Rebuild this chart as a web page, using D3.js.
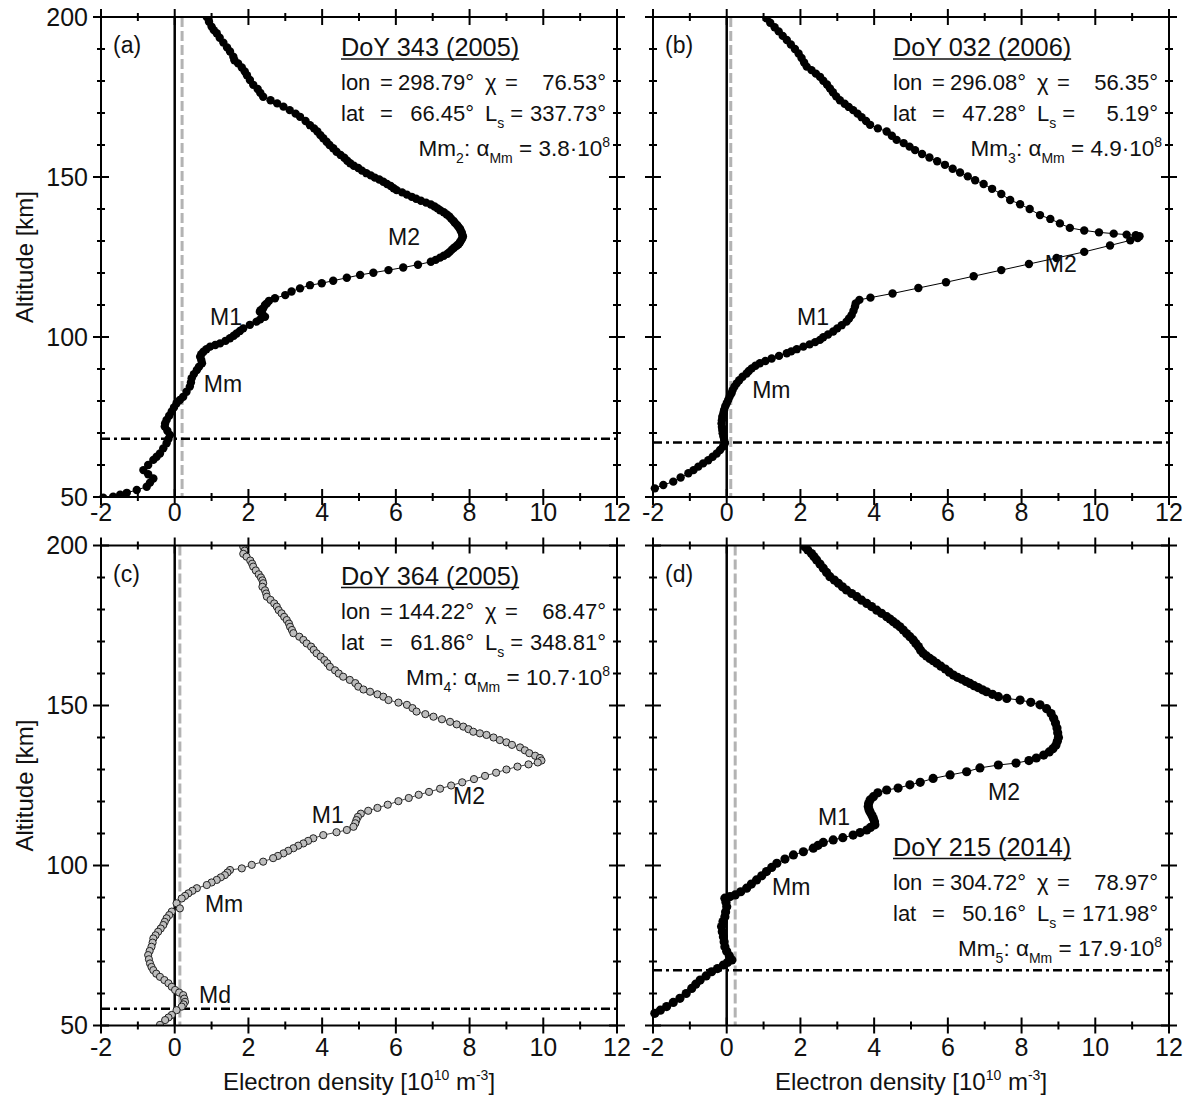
<!DOCTYPE html>
<html>
<head>
<meta charset="utf-8">
<script src="https://cdn.jsdelivr.net/npm/d3@7"></script>
<style>
  body { margin: 0; background: #fff; }
  text { font-family: "Liberation Sans", Arial, sans-serif; fill: #111; }
</style>
</head>
<body>
<script>
// electron density profiles, [altitude km, Ne 1e10 m^-3]
const profileA = [
  [200,0.87],[198.5,0.93],[197,1.0],[195.9,1.06],[194.9,1.14],[193.5,1.22],[192,1.32],[190.5,1.42],
  [189.2,1.5],[187.6,1.59],[186.5,1.62],[185.5,1.72],[184.2,1.82],[183,1.9],[181.8,1.96],[180.3,2.04],
  [178.8,2.13],[177.5,2.25],[176.3,2.32],[175.1,2.4],[174,2.6],[173,2.78],[172,2.95],[170.9,3.12],
  [169.8,3.28],[168.8,3.4],[167.5,3.55],[166.2,3.67],[165.2,3.78],[164.2,3.87],[163.1,3.95],[162.1,4.03],
  [161,4.12],[160,4.2],[159,4.3],[157.9,4.39],[156.9,4.5],[156,4.6],[155.1,4.68],[154.3,4.76],
  [153.5,4.86],[152.8,4.98],[152,5.08],[151.2,5.2],[150.5,5.32],[149.8,5.43],[149.2,5.55],[148.5,5.66],
  [147.8,5.76],[147.2,5.86],[146.5,5.94],[145.9,6.02],[145.2,6.17],[144.5,6.3],[143.8,6.43],[143.2,6.55],
  [142.6,6.68],[142,6.82],[141.4,6.95],[140.8,7.05],[140.2,7.13],[139.6,7.2],[139,7.3],[138.3,7.38],
  [137.7,7.45],[137,7.5],[136.3,7.56],[135.7,7.6],[135,7.66],[134.4,7.7],[133.8,7.74],[133.2,7.76],
  [132.6,7.79],[132,7.8],[131.4,7.82],[130.8,7.8],[130.2,7.77],[129.6,7.74],[129,7.7],[128.5,7.65],
  [127.9,7.58],[127.3,7.52],[126.6,7.46],[126,7.4],[125.4,7.3],[124.8,7.2],[124.1,7.08],[123.5,6.95],
  [122.6,6.6],[121.7,6.2],[120.9,5.8],[120.1,5.39],[119.4,5.03],[118.5,4.67],[117.6,4.3],[116.8,3.99],
  [116.2,3.67],[115.2,3.4],[114.2,3.17],[113.1,3.0],[112.1,2.72],[111.3,2.56],[110.5,2.5],[110,2.45],
  [109,2.4],[108.4,2.33],[107.9,2.31],[107.2,2.38],[106.3,2.45],[105.5,2.32],[104.8,2.22],[103.8,2.04],
  [102.7,1.86],[101.9,1.77],[101.1,1.68],[100.4,1.6],[99.6,1.5],[98.8,1.38],[98.0,1.23],[97.5,1.1],
  [97.0,0.96],[96.2,0.86],[95.4,0.78],[94.6,0.72],[93.8,0.69],[92.8,0.72],[91.8,0.74],[90.7,0.66],
  [89.7,0.6],[88.4,0.52],[87.1,0.46],[85.8,0.44],[84.5,0.41],[82.9,0.32],[81.3,0.23],[80.3,0.14],
  [79.3,0.05],[78,-0.02],[76.7,-0.08],[75.4,-0.15],[74.1,-0.22],[73,-0.26],[72,-0.27],[70.7,-0.2],
  [69.4,-0.13],[68.1,-0.17],[66.8,-0.22],[65.2,-0.31],[63.6,-0.4],[62.6,-0.49],[61.6,-0.58],[60,-0.72],
  [58.4,-0.85],[57.1,-0.72],[55.8,-0.58],[54.5,-0.67],[53.2,-0.76],[52.2,-1.03],[51.3,-1.3],[50.7,-1.48],
  [50.1,-1.67],[49.8,-1.94]
];
const profileB = [
  [199.6,1.08],[198.2,1.18],[196.8,1.3],[195.5,1.41],[194.1,1.52],[192.8,1.63],[191.4,1.74],[190,1.85],
  [188.6,1.95],[187.2,2.03],[185.8,2.1],[184.5,2.17],[183.4,2.3],[182.3,2.42],[181.3,2.53],[180.1,2.62],
  [178.9,2.72],[177.7,2.8],[176.5,2.88],[175.2,2.97],[174,3.07],[172.9,3.2],[171.9,3.31],[170.9,3.43],
  [169.8,3.55],[168.7,3.66],[167.5,3.78],[166.3,3.89],[165.2,4.1],[164.2,4.34],[162.9,4.48],[161.6,4.61],
  [160.6,4.8],[159.5,4.96],[158.4,5.11],[157.2,5.3],[156.1,5.5],[154.9,5.71],[153.8,5.92],[152.6,6.13],
  [151.4,6.33],[150.2,6.54],[149,6.74],[147.8,6.97],[146.3,7.2],[144.7,7.45],[142.8,7.69],[141.5,7.96],
  [140,8.22],[138.1,8.5],[136.9,8.78],[135.5,9.04],[134.1,9.31],[133.3,9.7],[132.7,10.1],[132.3,10.5],
  [132.0,10.85],[131.8,11.1],[131.5,11.2],[130.9,11.15],[130.2,10.95],
  [128.6,10.4],[126.6,9.7],[124.7,8.95],[122.8,8.2],[120.9,7.45],[119.0,6.7],[117.1,5.95],[115.3,5.2],
  [113.6,4.5],[112.3,3.9],[111.6,3.6],[110.5,3.5],[109.5,3.48],[108.2,3.44],[106.9,3.39],[105.8,3.32],
  [104.8,3.25],[103.7,3.12],[102.7,3.0],[101.7,2.89],[100.8,2.75],[99.9,2.62],[99.1,2.53],[98.4,2.4],
  [97.7,2.25],[97,2.08],[96.2,1.9],[95.5,1.75],[94.9,1.63],[94.1,1.42],[93.3,1.22],[92.5,1.05],
  [91.8,0.9],[91,0.78],[90.2,0.68],[89.4,0.6],[88.6,0.54],[87.6,0.43],[86.5,0.34],[85.5,0.27],
  [84.5,0.21],[83.4,0.16],[82.4,0.13],[81.4,0.08],[80.3,0.04],[79.3,0],[78.3,-0.04],[77.2,-0.07],
  [76.2,-0.09],[75.1,-0.12],[74,-0.13],[73,-0.14],[71.9,-0.13],[70.9,-0.12],[69.9,-0.11],[68.9,-0.09],
  [67.8,-0.07],[66.8,-0.05],[65.8,-0.1],[64.7,-0.18],[63.6,-0.27],[62.6,-0.38],[61.5,-0.5],[60.5,-0.64],
  [59.5,-0.77],[58.4,-0.9],[57.4,-1.04],[56.1,-1.25],[54.8,-1.45],[53.75,-1.72],[52.7,-1.95]
];
const profileC = [
  [199.6,1.86],[198.4,1.9],[197.4,1.86],[196.5,1.95],[195.3,2.05],[194.3,2.1],[193.4,2.13],[192.2,2.2],
  [191,2.28],[190,2.34],[189.1,2.38],[188.2,2.4],[187.1,2.38],[186,2.45],[185,2.48],[184,2.5],
  [183,2.6],[181.9,2.7],[180.9,2.77],[179.8,2.82],[178.8,2.9],[177.7,2.97],[176.7,3.04],[175.6,3.1],
  [174.6,3.13],[173.6,3.18],[172.6,3.22],[171.5,3.38],[170.5,3.49],[169.4,3.58],[168.4,3.7],[167.4,3.77],
  [166.3,3.85],[165.3,3.96],[164.2,4.06],[163.2,4.14],[162.1,4.21],[161,4.35],[160,4.45],[159,4.57],
  [158,4.75],[157,4.9],[155.9,4.98],[155,5.12],[154.3,5.3],[153.5,5.5],[152.75,5.66],[151.7,5.8],
  [150.9,6.07],[150.2,6.3],[149.2,6.45],[148.1,6.56],[147.3,6.8],[146.5,7.02],[145.7,7.25],[144.9,7.47],
  [144.1,7.65],[143.4,7.83],[142.6,7.97],[141.8,8.1],[141.3,8.28],[140.8,8.46],[140,8.65],[139.2,8.82],
  [138.5,9.0],[137.7,9.15],[136.9,9.37],[136.0,9.5],[135.1,9.62],[134.3,9.78],[133.6,9.91],[132.8,9.95],
  [132.2,9.85],[131.6,9.6],[130.9,9.3],[130.0,9.0],[129.0,8.72],[128.0,8.42],[127.0,8.12],[126.0,7.8],
  [125.0,7.5],[124.0,7.2],[123.0,6.9],[122.1,6.62],[121.1,6.35],[120.1,6.07],[119.0,5.78],[118.0,5.5],
  [117.1,5.25],[116.2,5.05],[115.2,4.97],[114.2,4.93],[113.2,4.9],[112.1,4.85],
  [111.1,4.67],[110.4,4.39],[109.5,4.03],[108.5,3.76],[107.7,3.62],[106.9,3.49],[106.2,3.35],
  [105.4,3.22],[104.6,3.08],[103.8,2.95],[103,2.8],[102.3,2.67],[101.2,2.4],[100.2,2.09],[99.1,1.82],
  [98.6,1.5],[97.8,1.43],[97.0,1.36],[96.3,1.25],[95.5,1.14],[94.7,1.0],[93.9,0.87],[92.9,0.6],
  [92.1,0.48],[91.3,0.37],[90.5,0.28],[89.7,0.19],[88.2,0.05],[86.6,0.14],[85.6,-0.08],[84.5,-0.15],
  [83.5,-0.22],[82.4,-0.27],[81.4,-0.31],[80.3,-0.38],[79.3,-0.45],[78.2,-0.52],[77.2,-0.58],[75.9,-0.6],
  [74.6,-0.63],[73.3,-0.68],[72,-0.72],[70.7,-0.7],[69.4,-0.67],[68.3,-0.63],[67.3,-0.58],[66.2,-0.5],
  [65.2,-0.4],[64.2,-0.28],[63.2,-0.17],[62.1,-0.08],[61.1,0.01],[60.3,0.12],[59.5,0.23],[58.4,0.26],
  [57.4,0.28],[56.6,0.24],[55.9,0.19],[54.8,0.05],[53.3,-0.08],[52.5,-0.17],[51.7,-0.26],[50.2,-0.4]
];
const profileD = [
  [199.6,2.12],[198.6,2.2],[197.5,2.3],[196.5,2.37],[195.5,2.44],[194.2,2.53],[192.9,2.62],[191.6,2.71],
  [190.25,2.8],[189.2,2.92],[188.2,3.03],[187.1,3.14],[186.1,3.25],[185,3.39],[184,3.53],[182.9,3.66],
  [181.9,3.8],[180.9,3.93],[179.8,4.07],[178.8,4.2],[177.75,4.34],[177,4.43],[176.2,4.52],[175.4,4.61],
  [174.6,4.7],[173.6,4.79],[172.5,4.88],[171.5,4.97],[170.5,5.06],[169.4,5.13],[168.4,5.2],[167.3,5.26],
  [166.3,5.33],[165.5,5.42],[164.7,5.51],[164,5.6],[163.2,5.7],[162.3,5.81],[161.4,5.93],[160.4,6.04],
  [159.5,6.15],[158.8,6.26],[158.2,6.38],[157.5,6.49],[156.9,6.6],[156.2,6.71],[155.6,6.82],[154.9,6.94],
  [154.3,7.05],[153.5,7.21],[152.75,7.37],[152.2,7.6],[151.7,7.96],[151,8.25],[150.2,8.5],[149,8.68],
  [147.5,8.8],[146,8.87],[144.5,8.92],[143,8.96],[141.5,8.98],[140,9.0],[138.8,8.97],[137.6,8.93],
  [136.5,8.85],[135.5,8.75],[134.5,8.6],[133.6,8.4],[132.8,8.2],[132,7.85],[131.4,7.37],[130.5,6.87],
  [129.3,6.51],[128.3,6.06],[127.2,5.6],[126,5.25],[125.2,4.97],[124.2,4.65],[123.6,4.34],[122.7,4.1],
  [121.5,3.98],[120.5,3.89],[119.4,3.85],[118.4,3.84],[117.5,3.86],[116.7,3.89],[115.7,3.94],[114.7,3.98],
  [113.7,4.01],[112.7,4.02],[111.9,3.9],[111.1,3.8],[110.3,3.62],[109.5,3.43],[108.7,3.15],[108,2.89],
  [107.2,2.62],[106.3,2.48],[105.4,2.35],[104.3,2.08],[103.3,1.81],[102,1.58],[100.7,1.36],[99.4,1.22],
  [98.1,1.08],[96.8,0.95],[95.5,0.81],[94.2,0.67],[92.9,0.54],[91.8,0.38],[90.8,0.23],[90.3,0.09],
  [89.8,-0.05],[88.5,-0.02],[87.1,0],[85.5,-0.03],[84,-0.05],[82.5,-0.1],[80.9,-0.14],[79.3,-0.12],
  [77.75,-0.09],[76.2,-0.07],[74.6,-0.05],[73.2,0],[71.8,0.07],[70.5,0.14],[69.7,0.02],[68.9,-0.09],
  [67.8,-0.25],[66.8,-0.41],[65.5,-0.56],[64.2,-0.72],[62.9,-0.84],[61.6,-0.95],[60,-1.1],[58.5,-1.27],
  [57.2,-1.45],[55.9,-1.63],[54.8,-1.8],[53.8,-1.95]
];

const panelLetters = ["(a)", "(b)", "(c)", "(d)"];
const doyTitles = ["DoY 343 (2005)", "DoY 032 (2006)", "DoY 364 (2005)", "DoY 215 (2014)"];
const lonVals = ["298.79°", "296.08°", "144.22°", "304.72°"];
const latVals = ["66.45°", "47.28°", "61.86°", "50.16°"];
const chiVals = ["76.53°", "56.35°", "68.47°", "78.97°"];
const lsVals = ["337.73°", "5.19°", "348.81°", "171.98°"];
const mmIndex = ["2", "3", "4", "5"];
const alphaVals = ["3.8", "4.9", "10.7", "17.9"];
const cutoffAlt = [68.2, 67.0, 55.2, 67.3];   // dash-dot lines
const noiseLevel = [0.2, 0.11, 0.14, 0.23];   // grey dashed lines
// layer labels: [text, Ne, altitude]
const layerLabels = [
  [["M2", 5.79, 128.7], ["M1", 0.96, 103.8], ["Mm", 0.79, 82.8]],
  [["M2", 8.63, 120.3], ["M1", 1.91, 103.8], ["Mm", 0.69, 80.9]],
  [["M2", 7.55, 119.3], ["M1", 3.72, 113.3], ["Mm", 0.82, 85.5], ["Md", 0.66, 57.0]],
  [["M2", 7.09, 120.5], ["M1", 2.48, 112.7], ["Mm", 1.23, 90.8]]
];
const xMajor = [-2, 0, 2, 4, 6, 8, 10, 12];
const xMinor = [-1, 1, 3, 5, 7, 9, 11];
const yMajor = [50, 100, 150, 200];
const yMinor = [60, 70, 80, 90, 110, 120, 130, 140, 160, 170, 180, 190];

const W = 1196, H = 1099;
const pw = 516, ph = 480;
const colX = [101, 653], rowY = [17, 545.5];
const profiles = [profileA, profileB, profileC, profileD];

const svg = d3.select("body").append("svg").attr("width", W).attr("height", H);

const x = d3.scaleLinear().domain([-2, 12]).range([0, pw]);
const y = d3.scaleLinear().domain([50, 200]).range([ph, 0]);

profiles.forEach((prof, i) => {
  const col = i % 2, row = Math.floor(i / 2);
  const g = svg.append("g").attr("transform", `translate(${colX[col]},${rowY[row]})`);

  g.append("clipPath").attr("id", "clip" + i)
    .append("rect").attr("x", -6).attr("y", 0).attr("width", pw + 6).attr("height", ph);

  // reference lines
  g.append("line").attr("x1", x(noiseLevel[i])).attr("x2", x(noiseLevel[i]))
    .attr("y1", 0).attr("y2", ph)
    .attr("stroke", "#b3b3b3").attr("stroke-width", 3).attr("stroke-dasharray", "10,4");
  g.append("line").attr("x1", x(0)).attr("x2", x(0)).attr("y1", 0).attr("y2", ph)
    .attr("stroke", "#000").attr("stroke-width", 2.5);
  g.append("line").attr("x1", 0).attr("x2", pw)
    .attr("y1", y(cutoffAlt[i])).attr("y2", y(cutoffAlt[i]))
    .attr("stroke", "#000").attr("stroke-width", 2.5).attr("stroke-dasharray", "9,4,3,4");

  // profile
  const data = g.append("g").attr("clip-path", `url(#clip${i})`);
  data.append("path").datum(prof)
    .attr("fill", "none").attr("stroke", i === 2 ? "#444" : "#000").attr("stroke-width", 1)
    .attr("d", d3.line().x(d => x(d[1])).y(d => y(d[0])));
  data.selectAll("circle").data(prof).enter().append("circle")
    .attr("cx", d => x(d[1])).attr("cy", d => y(d[0]))
    .attr("r", i === 2 ? 3.6 : (i === 3 ? 4.6 : 4.2))
    .attr("fill", i === 2 ? "#bdbdbd" : "#000")
    .attr("stroke", i === 2 ? "#222" : "none").attr("stroke-width", 1);

  // frame
  g.append("rect").attr("width", pw).attr("height", ph)
    .attr("fill", "none").attr("stroke", "#000").attr("stroke-width", 2);

  // crossing ticks on all four sides
  const tk = g.append("g").attr("stroke", "#000").attr("stroke-width", 2);
  [[xMajor, 8], [xMinor, 4]].forEach(([vals, s]) => {
    vals.forEach(v => {
      tk.append("line").attr("x1", x(v)).attr("x2", x(v)).attr("y1", ph - s).attr("y2", ph + s);
      tk.append("line").attr("x1", x(v)).attr("x2", x(v)).attr("y1", -s).attr("y2", s);
    });
  });
  [[yMajor, 8], [yMinor, 4]].forEach(([vals, s]) => {
    vals.forEach(v => {
      tk.append("line").attr("y1", y(v)).attr("y2", y(v)).attr("x1", -s).attr("x2", s);
      tk.append("line").attr("y1", y(v)).attr("y2", y(v)).attr("x1", pw - s).attr("x2", pw + s);
    });
  });

  // tick labels
  const tyBase = row === 0 ? 24 : 30;
  g.selectAll(".xl").data(xMajor).enter().append("text")
    .attr("x", d => x(d)).attr("y", ph + tyBase)
    .attr("text-anchor", "middle").attr("font-size", 25).text(d => String(d));
  if (col === 0) {
    g.selectAll(".yl").data(yMajor).enter().append("text")
      .attr("x", -13).attr("y", d => y(d)).attr("dy", "0.35em")
      .attr("text-anchor", "end").attr("font-size", 25).text(d => String(d));
  }

  // panel letter
  g.append("text").attr("x", 12).attr("y", 36).attr("font-size", 23).text(panelLetters[i]);

  // layer labels
  layerLabels[i].forEach(([t, v, a]) => {
    g.append("text").attr("x", x(v)).attr("y", y(a)).attr("font-size", 23).text(t);
  });

  // info block
  const ty = i === 3 ? 310 : 39;
  const bx = 240;
  const title = g.append("text").attr("x", bx).attr("y", ty).attr("font-size", 25.3).text(doyTitles[i]);
  const tw = title.node().getComputedTextLength();
  g.append("line").attr("x1", bx).attr("x2", bx + tw).attr("y1", ty + 3).attr("y2", ty + 3)
    .attr("stroke", "#111").attr("stroke-width", 1.6);

  const fs = 22;
  const l1 = ty + 34, l2 = ty + 65, l3 = ty + 100;
  g.append("text").attr("x", bx).attr("y", l1).attr("font-size", fs).text("lon");
  g.append("text").attr("x", bx + 39).attr("y", l1).attr("font-size", fs).text("=");
  g.append("text").attr("x", bx + 133).attr("y", l1).attr("font-size", fs).attr("text-anchor", "end").text(lonVals[i]);
  g.append("text").attr("x", bx + 144).attr("y", l1).attr("font-size", fs).text("χ");
  g.append("text").attr("x", bx + 164).attr("y", l1).attr("font-size", fs).text("=");
  g.append("text").attr("x", bx + 265).attr("y", l1).attr("font-size", fs).attr("text-anchor", "end").text(chiVals[i]);

  g.append("text").attr("x", bx).attr("y", l2).attr("font-size", fs).text("lat");
  g.append("text").attr("x", bx + 39).attr("y", l2).attr("font-size", fs).text("=");
  g.append("text").attr("x", bx + 133).attr("y", l2).attr("font-size", fs).attr("text-anchor", "end").text(latVals[i]);
  const ls = g.append("text").attr("x", bx + 144).attr("y", l2).attr("font-size", fs);
  ls.append("tspan").text("L");
  ls.append("tspan").attr("font-size", 14).attr("dy", 7).text("s");
  ls.append("tspan").attr("dy", -7).text(" =");
  g.append("text").attr("x", bx + 265).attr("y", l2).attr("font-size", fs).attr("text-anchor", "end").text(lsVals[i]);

  const mm = g.append("text").attr("x", bx + 269).attr("y", l3).attr("font-size", 22.5).attr("text-anchor", "end");
  mm.append("tspan").text("Mm");
  mm.append("tspan").attr("font-size", 14).attr("dy", 7).text(mmIndex[i]);
  mm.append("tspan").attr("dy", -7).text(": α");
  mm.append("tspan").attr("font-size", 14).attr("dy", 7).text("Mm");
  mm.append("tspan").attr("dy", -7).text(" = " + alphaVals[i] + "·10");
  mm.append("tspan").attr("font-size", 14).attr("dy", -9).text("8");
});

// axis titles
[0, 1].forEach(row => {
  svg.append("text")
    .attr("transform", `translate(33,${rowY[row] + ph / 2}) rotate(-90)`)
    .attr("text-anchor", "middle").attr("font-size", 24).text("Altitude [km]");
});
[0, 1].forEach(col => {
  const t = svg.append("text").attr("x", colX[col] + pw / 2).attr("y", 1090)
    .attr("text-anchor", "middle").attr("font-size", 24);
  t.append("tspan").text("Electron density [10");
  t.append("tspan").attr("font-size", 14).attr("dy", -10).text("10");
  t.append("tspan").attr("dy", 10).text(" m");
  t.append("tspan").attr("font-size", 14).attr("dy", -10).text("-3");
  t.append("tspan").attr("dy", 10).text("]");
});
</script>
</body>
</html>
